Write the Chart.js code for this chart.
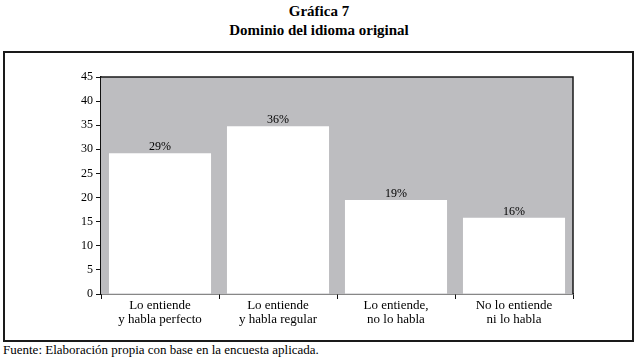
<!DOCTYPE html>
<html>
<head>
<meta charset="utf-8">
<script src="https://cdn.jsdelivr.net/npm/chart.js@4/dist/chart.umd.min.js"></script>
<style>
    body { margin: 0; background: #fff; }
    #wrap { position: relative; width: 638px; height: 363px; font-family: "Liberation Serif", "DejaVu Serif", serif; color: #000; }
    .title { position: absolute; left: 0; width: 638px; text-align: center; font-weight: bold; font-size: 15px; }
    #frame { position: absolute; left: 3px; top: 51px; width: 627px; height: 287px; border: 2px solid #1a1a1a; }
    #footer { position: absolute; left: 3px; top: 342px; font-size: 13px; }
    #chartBox { position: absolute; left: 0; top: 0; width: 638px; height: 363px; }
</style>
</head>
<body>
<div id="wrap">
    <div class="title" style="top:3px;">Gráfica 7</div>
    <div class="title" style="top:22px;">Dominio del idioma original</div>
    <div id="frame"></div>
    <div id="footer">Fuente: Elaboración propia con base en la encuesta aplicada.</div>
    <div id="chartBox"><canvas id="idiomaChart"></canvas></div>
</div>
<script>
// Chart data
const categories = [
    ['Lo entiende', 'y habla perfecto'],
    ['Lo entiende', 'y habla regular'],
    ['Lo entiende,', 'no lo habla'],
    ['No lo entiende', 'ni lo habla']
];
const values = [29.2, 34.8, 19.5, 15.8];
const percentLabels = ['29%', '36%', '19%', '16%'];
const yTicks = [0, 5, 10, 15, 20, 25, 30, 35, 40, 45];

const serif = '"Liberation Serif", "DejaVu Serif", serif';

// Gray plot background with a dark border
const plotBackground = {
    id: 'plotBackground',
    beforeDatasetsDraw(chart) {
        const { ctx, chartArea: a } = chart;
        ctx.save();
        ctx.fillStyle = '#bdbdc0';
        ctx.fillRect(a.left, a.top, a.right - a.left, a.bottom - a.top);
        ctx.restore();
    },
    afterDatasetsDraw(chart) {
        const { ctx, chartArea: a } = chart;
        ctx.save();
        ctx.strokeStyle = '#1a1a1a';
        ctx.lineWidth = 1.5;
        ctx.beginPath();
        ctx.moveTo(a.left, a.top);
        ctx.lineTo(a.right, a.top);
        ctx.lineTo(a.right, a.bottom);
        ctx.stroke();
        ctx.restore();
    }
};

// Percentage labels above each bar
const barLabels = {
    id: 'barLabels',
    afterDatasetsDraw(chart) {
        const { ctx } = chart;
        const meta = chart.getDatasetMeta(0);
        ctx.save();
        ctx.font = '12px ' + serif;
        ctx.fillStyle = '#000';
        ctx.textAlign = 'center';
        ctx.textBaseline = 'bottom';
        meta.data.forEach((bar, i) => {
            ctx.fillText(percentLabels[i], bar.x, bar.y);
        });
        ctx.restore();
    }
};

const ctx = document.getElementById('idiomaChart').getContext('2d');
new Chart(ctx, {
    type: 'bar',
    data: {
        labels: categories,
        datasets: [{
            data: values,
            backgroundColor: '#ffffff',
            borderWidth: 0,
            barPercentage: 0.865,
            categoryPercentage: 1
        }]
    },
    options: {
        responsive: true,
        maintainAspectRatio: false,
        animation: false,
        layout: {
            padding: { top: 77, right: 65, bottom: 18, left: 60 }
        },
        plugins: {
            legend: { display: false },
            tooltip: { enabled: false }
        },
        scales: {
            y: {
                min: 0,
                max: 45,
                afterFit: scale => { scale.width = 41; },
                afterBuildTicks: scale => { scale.ticks = yTicks.map(v => ({ value: v })); },
                ticks: {
                    color: '#000',
                    padding: 3,
                    font: { family: serif, size: 12 }
                },
                grid: {
                    drawOnChartArea: false,
                    tickLength: 5,
                    color: '#111'
                },
                border: { display: true, color: '#111', width: 1.5 }
            },
            x: {
                afterFit: scale => { scale.height = 51; },
                ticks: {
                    color: '#000',
                    padding: 0,
                    font: { family: serif, size: 13, lineHeight: 1.05 }
                },
                grid: {
                    drawOnChartArea: false,
                    offset: true,
                    tickLength: 5,
                    color: '#111'
                },
                border: { display: true, color: '#111', width: 1.5 }
            }
        }
    },
    plugins: [plotBackground, barLabels]
});
</script>
</body>
</html>
